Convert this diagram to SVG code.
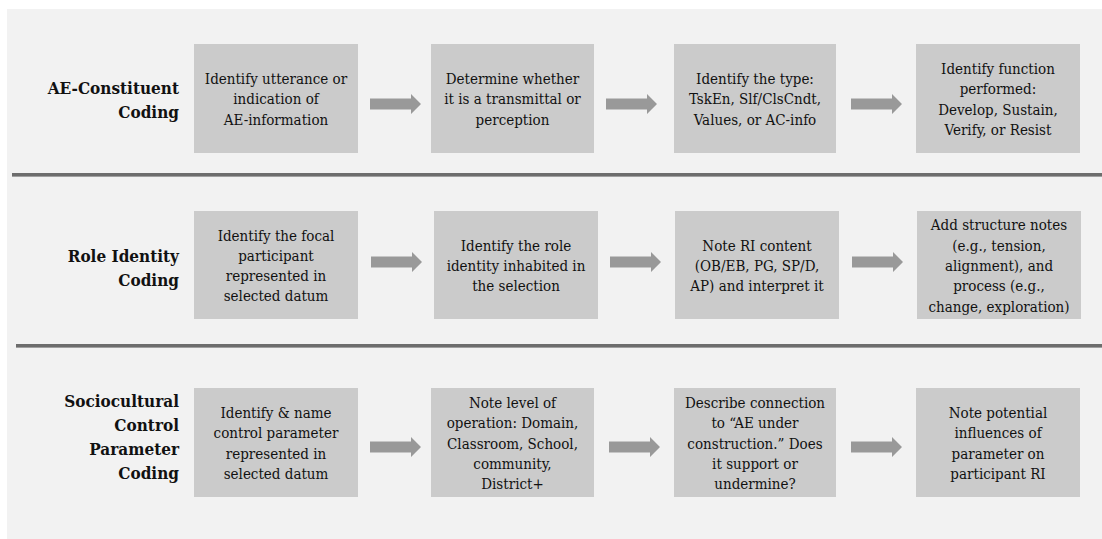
<svg xmlns="http://www.w3.org/2000/svg" xmlns:xlink="http://www.w3.org/1999/xlink" width="1102" height="539" viewBox="0 0 1102 539">
<style>
.panel{fill:#f2f2f2}
.sep{fill:#6d6d6d}
.sep2{fill:#a0a0a0}
.box{fill:#cbcbcb}
text{fill:#111;font-family:'DejaVu Serif Condensed','DejaVu Serif','Liberation Serif',serif;font-stretch:condensed}
.t{font-size:15px;text-anchor:middle}
.h{font-size:17px;font-weight:bold;text-anchor:end}
.arr{fill:#999999}
</style>
<defs>
<path id="arrow" d="M0,-5.5 H41 V-10 L51,0 L41,10 V5.5 H0 Z"/>
</defs>
<rect class="panel" x="7" y="9" width="1095" height="530"/>
<g id="separators">
<rect class="sep" x="12" y="173" width="1090" height="3"/>
<rect class="sep2" x="12" y="176" width="1090" height="1"/>
<rect class="sep" x="16" y="344" width="1086" height="3"/>
<rect class="sep2" x="16" y="347" width="1086" height="1"/>
</g>
<g id="row1-label">
<text class="h" x="179" y="94">AE-Constituent</text>
<text class="h" x="179" y="118">Coding</text>
</g>
<g id="row2-label">
<text class="h" x="179" y="262">Role Identity</text>
<text class="h" x="179" y="286">Coding</text>
</g>
<g id="row3-label">
<text class="h" x="179" y="407">Sociocultural</text>
<text class="h" x="179" y="431">Control</text>
<text class="h" x="179" y="455">Parameter</text>
<text class="h" x="179" y="479">Coding</text>
</g>
<g id="r1b1"><rect class="box" x="194" y="44" width="164" height="109"/>
<text class="t" x="276" y="84">Identify utterance or</text>
<text class="t" x="276" y="104.3">indication of</text>
<text class="t" x="276" y="124.6">AE-information</text></g>
<g id="r1b2"><rect class="box" x="431" y="44" width="163" height="109"/>
<text class="t" x="512.5" y="84">Determine whether</text>
<text class="t" x="512.5" y="104.3">it is a transmittal or</text>
<text class="t" x="512.5" y="124.6">perception</text></g>
<g id="r1b3"><rect class="box" x="674" y="44" width="162" height="109"/>
<text class="t" x="755" y="84">Identify the type:</text>
<text class="t" x="755" y="104.3">TskEn, Slf/ClsCndt,</text>
<text class="t" x="755" y="124.6">Values, or AC-info</text></g>
<g id="r1b4"><rect class="box" x="916" y="44" width="164" height="109"/>
<text class="t" x="998" y="74">Identify function</text>
<text class="t" x="998" y="94.3">performed:</text>
<text class="t" x="998" y="114.6">Develop, Sustain,</text>
<text class="t" x="998" y="134.9">Verify, or Resist</text></g>
<g id="r2b1"><rect class="box" x="194" y="211" width="164" height="108"/>
<text class="t" x="276" y="240.5">Identify the focal</text>
<text class="t" x="276" y="260.8">participant</text>
<text class="t" x="276" y="281.1">represented in</text>
<text class="t" x="276" y="301.4">selected datum</text></g>
<g id="r2b2"><rect class="box" x="434" y="211" width="164" height="108"/>
<text class="t" x="516" y="250.7">Identify the role</text>
<text class="t" x="516" y="271">identity inhabited in</text>
<text class="t" x="516" y="291.3">the selection</text></g>
<g id="r2b3"><rect class="box" x="675" y="211" width="164" height="108"/>
<text class="t" x="757" y="250.7">Note RI content</text>
<text class="t" x="757" y="271">(OB/EB, PG, SP/D,</text>
<text class="t" x="757" y="291.3">AP) and interpret it</text></g>
<g id="r2b4"><rect class="box" x="917" y="211" width="164" height="108"/>
<text class="t" x="999" y="230.4">Add structure notes</text>
<text class="t" x="999" y="250.7">(e.g., tension,</text>
<text class="t" x="999" y="271">alignment), and</text>
<text class="t" x="999" y="291.3">process (e.g.,</text>
<text class="t" x="999" y="311.6">change, exploration)</text></g>
<g id="r3b1"><rect class="box" x="194" y="388" width="164" height="109"/>
<text class="t" x="276" y="418">Identify &amp; name</text>
<text class="t" x="276" y="438.3">control parameter</text>
<text class="t" x="276" y="458.6">represented in</text>
<text class="t" x="276" y="478.9">selected datum</text></g>
<g id="r3b2"><rect class="box" x="431" y="388" width="163" height="109"/>
<text class="t" x="512.5" y="408">Note level of</text>
<text class="t" x="512.5" y="428.3">operation: Domain,</text>
<text class="t" x="512.5" y="448.6">Classroom, School,</text>
<text class="t" x="512.5" y="468.9">community,</text>
<text class="t" x="512.5" y="489.2">District+</text></g>
<g id="r3b3"><rect class="box" x="674" y="388" width="162" height="109"/>
<text class="t" x="755" y="408">Describe connection</text>
<text class="t" x="755" y="428.3">to “AE under</text>
<text class="t" x="755" y="448.6">construction.” Does</text>
<text class="t" x="755" y="468.9">it support or</text>
<text class="t" x="755" y="489.2">undermine?</text></g>
<g id="r3b4"><rect class="box" x="916" y="388" width="164" height="109"/>
<text class="t" x="998" y="418">Note potential</text>
<text class="t" x="998" y="438.3">influences of</text>
<text class="t" x="998" y="458.6">parameter on</text>
<text class="t" x="998" y="478.9">participant RI</text></g>
<g id="connectors" class="arr">
<use xlink:href="#arrow" href="#arrow" x="370" y="104"/>
<use xlink:href="#arrow" href="#arrow" x="606" y="104"/>
<use xlink:href="#arrow" href="#arrow" x="851" y="104"/>
<use xlink:href="#arrow" href="#arrow" x="371" y="262"/>
<use xlink:href="#arrow" href="#arrow" x="610" y="262"/>
<use xlink:href="#arrow" href="#arrow" x="852" y="262"/>
<use xlink:href="#arrow" href="#arrow" x="370" y="447"/>
<use xlink:href="#arrow" href="#arrow" x="609" y="447"/>
<use xlink:href="#arrow" href="#arrow" x="851" y="447"/>
</g>
</svg>
